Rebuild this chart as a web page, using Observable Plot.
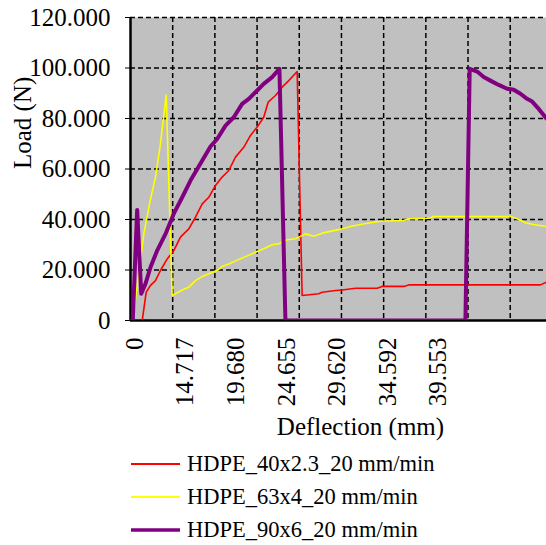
<!DOCTYPE html>
<html>
<head>
<meta charset="utf-8">
<script src="https://cdn.jsdelivr.net/npm/d3@7"></script>
<script src="https://cdn.jsdelivr.net/npm/@observablehq/plot@0.6"></script>
<style>
  body { margin: 0; background: #fff; font-family: "Liberation Serif", "Times New Roman", serif; }
  #legend { margin-top: 2.5px; }
  .row { display: flex; align-items: center; height: 33px; padding-left: 131px; font-size: 22.5px; color: #000; }
  .row svg { display: block; margin-right: 7px; }
</style>
</head>
<body>
<div id="chart"></div>
<div id="legend"></div>
<script>
// Series names and colours
const seriesNames = ["HDPE_40x2.3_20 mm/min", "HDPE_63x4_20 mm/min", "HDPE_90x6_20 mm/min"];
const seriesColors = ["#FF0000", "#FFFF00", "#800080"];
const seriesWidths = [1.6, 1.6, 4];

// x values are category positions along the (category) deflection axis
const redX = [0, 1.39, 1.86, 2.37, 2.96, 3.55, 4.35, 5.13, 5.92, 6.91, 7.7, 8.5, 9.28, 10.07, 10.86, 11.65, 12.44, 13.42, 14.22, 15.01, 15.79, 16.32, 17.18, 17.97, 18.76, 19.75, 20.34, 22.31, 22.71, 24.29, 25.08, 26.66, 29.23, 29.82, 32.38, 32.97, 48.58, 49.29];
const redY = [0, 0, 11.2, 13.9, 15.8, 19.8, 24.4, 27.7, 33, 36.3, 40.9, 46.2, 48.8, 53.5, 56.8, 59.4, 64.7, 68.6, 73.3, 76.6, 80.5, 86.5, 89.1, 92.4, 95, 98.6, 9.9, 10.6, 11.2, 11.9, 12.1, 12.8, 12.8, 13.5, 13.5, 14.1, 14.1, 15.2];

const yellowX = [0.27, 1.58, 2.25, 2.96, 3.55, 4.23, 4.94, 5.33, 6.13, 6.91, 7.7, 8.5, 9.28, 10.27, 10.86, 11.65, 12.83, 13.63, 14.81, 15.79, 16.79, 17.57, 18.57, 19.55, 20.73, 21.72, 22.71, 24.09, 25.08, 26.07, 27.25, 28.44, 29.62, 32.38, 32.97, 35.34, 35.94, 45.02, 45.82, 46.8, 47.78, 49.29];
const yellowY = [0, 34.3, 46.2, 56.8, 70, 89.3, 9.9, 10.6, 12.1, 13.2, 15.8, 17.4, 18.5, 19.8, 21.4, 22.4, 24.2, 25.3, 27, 28.4, 30, 30.4, 32, 32.4, 34.3, 33.4, 34.6, 35.6, 36.3, 37.2, 38, 38.7, 39.3, 39.6, 40.3, 40.5, 41.2, 41.2, 40.3, 38.7, 38, 37.2];

const purpleX = [0.27, 0.79, 1.27, 1.78, 2.37, 3.16, 4.15, 5.13, 6.13, 7.11, 8.4, 9.48, 10.27, 11.26, 12.24, 13.23, 14.02, 15.01, 15.79, 16.79, 17.65, 18.36, 39.69, 40.2, 41.08, 41.86, 42.65, 43.64, 44.63, 45.42, 46.21, 47.0, 47.6, 48.38, 49.29];
const purpleY = [0, 43.8, 10.6, 14.6, 21.1, 27.7, 34.3, 42.3, 48.8, 55.4, 62.8, 68.9, 71.9, 77.2, 80.5, 85.8, 87.8, 91.1, 93.7, 96.4, 99.7, 0, 0, 99.7, 98.6, 96.4, 95, 93.3, 91.8, 91.4, 89.8, 87.8, 86.7, 83.8, 80];

// Axis ticks
const xTickLabels = ["0", "14.717", "19.680", "24.655", "29.620", "34.592", "39.553"];
const xTickIndex = [0, 6, 12, 18, 24, 30, 36];
const xGridIndex = [5, 10, 15, 20, 25, 30, 35, 40, 45];
const yTicks = [0, 20, 40, 60, 80, 100, 120];

const seriesX = [redX, yellowX, purpleX];
const seriesY = [redY, yellowY, purpleY];
const rows = [];
seriesNames.forEach((name, s) => {
  seriesX[s].forEach((x, i) => rows.push({series: name, x, y: seriesY[s][i]}));
});

const font = "'Liberation Serif','Times New Roman',serif";
const fs = 25;
const dash = {stroke: "black", strokeWidth: 1.5, strokeDasharray: "5,3"};

const chart = Plot.plot({
  width: 546,
  height: 445,
  marginLeft: 130,
  marginRight: 0,
  marginTop: 17,
  marginBottom: 125,
  style: {fontFamily: font, fontSize: fs + "px", color: "black", background: "white", overflow: "visible"},
  x: {domain: [0, 49.3], axis: null},
  y: {domain: [0, 120], axis: null},
  marks: [
    Plot.frame({fill: "#C0C0C0", stroke: null}),
    Plot.ruleX(xGridIndex, dash),
    Plot.ruleY(yTicks.filter(d => d > 0), dash),
    Plot.ruleX([0], {stroke: "black", strokeWidth: 2.5}),
    Plot.ruleY([0], {stroke: "black", strokeWidth: 2.5}),
    Plot.axisY({ticks: yTicks, tickFormat: d => d === 0 ? "0" : d.toFixed(3), tickSize: 5, tickPadding: 15, fontSize: fs, label: null}),
    Plot.text(xTickIndex, {
      x: d => d + 0.5,
      text: (d, i) => xTickLabels[i],
      frameAnchor: "bottom",
      rotate: -90,
      textAnchor: "end",
      lineAnchor: "middle",
      dy: 17,
      fontSize: fs,
      fill: "black"
    }),
    ...seriesNames.map((name, s) => Plot.line(rows.filter(r => r.series === name), {
      x: "x", y: "y",
      stroke: seriesColors[s],
      strokeWidth: seriesWidths[s],
      strokeLinejoin: "round",
      clip: true
    })),
    Plot.text(["Deflection (mm)"], {frameAnchor: "bottom", dx: 22, dy: 106, fontSize: fs, fill: "black", lineAnchor: "middle"}),
    Plot.text(["Load (N)"], {frameAnchor: "left", dx: -108, rotate: -90, fontSize: fs, fill: "black", lineAnchor: "middle"})
  ]
});
document.getElementById("chart").appendChild(chart);

const legend = document.getElementById("legend");
seriesNames.forEach((name, s) => {
  const row = document.createElement("div");
  row.className = "row";
  row.innerHTML = `<svg width="49" height="8"><line x1="0" x2="49" y1="4" y2="4" stroke="${seriesColors[s]}" stroke-width="${s === 2 ? 3.5 : 1.8}"/></svg><span>${name}</span>`;
  legend.appendChild(row);
});
</script>
</body>
</html>
